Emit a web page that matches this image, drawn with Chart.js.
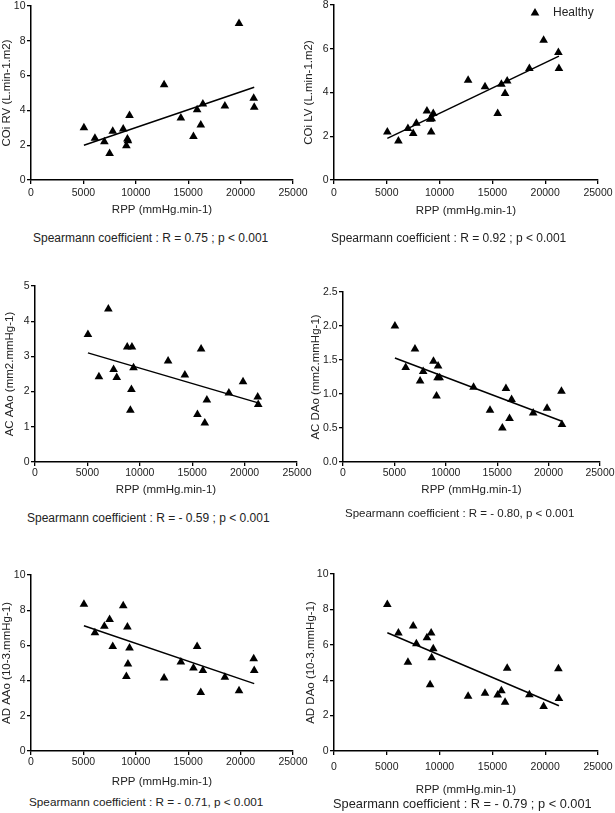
<!DOCTYPE html>
<html><head><meta charset="utf-8">
<script src="https://cdn.jsdelivr.net/npm/chart.js@4"></script>
<style>
html,body{margin:0;padding:0;background:#fff;width:615px;height:813px;overflow:hidden;position:relative;font-family:"Liberation Sans",Arial,sans-serif}
canvas{position:absolute}
.sp{position:absolute;white-space:nowrap;color:#222;line-height:1}
</style></head><body>
<script>
// ---- data ----
const rpp   = [5050, 6100, 7000, 7500, 7800, 8800, 9100, 9200, 9250, 9400, 12700, 14300, 15500, 15850, 16200, 16400, 18500, 19850, 21250, 21300];
const coiRV = [3.0, 2.4, 2.2, 1.53, 2.8, 2.93, 1.97, 2.36, 2.25, 3.7, 5.47, 3.56, 2.5, 4.04, 3.16, 4.37, 4.25, 9.0, 4.7, 4.18];
const coiLV = [2.2, 1.78, 2.36, 2.13, 2.59, 3.15, 2.78, 2.2, 2.8, 3.04, 4.56, 4.26, 3.04, 4.38, 3.95, 4.53, 5.1, 6.39, 5.83, 5.1];
const acAAo = [3.62, 2.42, 4.35, 2.63, 2.4, 3.27, 1.47, 2.06, 3.27, 2.68, 2.87, 2.47, 1.35, 3.21, 1.11, 1.76, 1.96, 2.28, 1.85, 1.63];
const acDAo = [2.0, 1.39, 1.66, 1.19, 1.33, 1.48, 0.97, 1.24, 1.41, 1.24, 1.10, 0.76, 0.5, 1.08, 0.64, 0.92, 0.72, 0.79, 1.04, 0.55];
const adAAo = [8.34, 6.72, 7.09, 7.47, 5.94, 8.25, 4.23, 7.05, 4.95, 5.85, 4.15, 5.05, 4.72, 5.94, 3.33, 4.57, 4.19, 3.43, 5.24, 4.57];
const adDAo = [8.28, 6.67, 5.02, 7.06, 6.06, 6.4, 3.75, 6.67, 5.27, 5.78, 3.09, 3.26, 3.16, 3.41, 2.75, 4.68, 3.18, 2.52, 4.64, 2.97];

// regression line end points (x range and y at each end)
const fitX   = [5050, 21300];
const fitRV  = [2.0, 5.33];
const fitLV  = [1.9, 5.66];
const fitACA = [3.1, 1.68];
const fitACD = [1.53, 0.6];
const fitADA = [7.12, 3.83];
const fitADD = [6.68, 2.56];

const xTicksMax = 25000, xStep = 5000;
const xTitle = 'RPP (mmHg.min-1)';
const yTitles = ['COi RV (L.min-1.m2)', 'COi LV (L.min-1.m2)', 'AC AAo (mm2.mmHg-1)', 'AC DAo (mm2.mmHg-1)', 'AD AAo (10-3.mmHg-1)', 'AD DAo (10-3.mmHg-1)'];
const yMaxes = [10, 8, 5, 2.5, 10, 10];
const ySteps = [2, 2, 1, 0.5, 2, 2];
const yDecimals = [0, 0, 0, 1, 0, 0];
const seriesName = 'Healthy';
const spearman = [
  'Spearmann coefficient : R = 0.75 ; p < 0.001',
  'Spearmann coefficient : R = 0.92 ; p < 0.001',
  'Spearmann coefficient : R = - 0.59 ; p < 0.001',
  'Spearmann coefficient : R = - 0.80, p < 0.001',
  'Spearmann coefficient : R = - 0.71, p < 0.001',
  'Spearmann coefficient : R = - 0.79 ; p < 0.001'
];
const values = [coiRV, coiLV, acAAo, acDAo, adAAo, adDAo];
const fits = [fitRV, fitLV, fitACA, fitACD, fitADA, fitADD];

// ---- layout (pixels) ----
const geo = [
  {cl:0,   L:31,  R:293, T:6,   B:180, yTitleX:7,   tickOff:13.3, titleY:210},
  {cl:300, L:334, R:598, T:5,   B:180, yTitleX:308.5, tickOff:13, titleY:211},
  {cl:0,   L:35,  R:297, T:286, B:462, yTitleX:10,  tickOff:11.3, titleY:490},
  {cl:300, L:343, R:600, T:292, B:462, yTitleX:316, tickOff:11.3, titleY:490},
  {cl:0,   L:31,  R:293, T:575, B:751, yTitleX:7,   tickOff:11, titleY:782},
  {cl:300, L:334, R:598, T:574, B:751, yTitleX:311, tickOff:16, titleY:790}
];
const spPos = [
  {x:33, y:238, fs:12}, {x:331, y:238, fs:12},
  {x:27, y:518, fs:12}, {x:345, y:514, fs:11.5},
  {x:29, y:802, fs:11.75}, {x:333, y:804, fs:12.8}
];

const FONT = '"Liberation Sans", Arial, sans-serif';
const tickFont = {family: FONT, size: 10.5};
const titleFont = {family: FONT, size: 11.5};
const TXT = '#222';
const TICKLEN = 4;

const legendPlugin = {
  id: 'healthyLegend',
  afterDraw(chart, args, opts) {
    if (!opts.show) return;
    const {ctx, chartArea} = chart;
    const x = chartArea.right - 63, y = chartArea.top + 8;
    ctx.save();
    ctx.fillStyle = '#000';
    Chart.helpers.drawPoint(ctx, {pointStyle: 'triangle', radius: 5, borderWidth: 0, rotation: 0}, x, y);
    ctx.font = '12px ' + FONT;
    ctx.fillStyle = TXT;
    ctx.textBaseline = 'middle';
    ctx.textAlign = 'left';
    ctx.fillText(seriesName, chartArea.right - 45, y);
    ctx.restore();
  }
};

for (let i = 0; i < 6; i++) {
  const g = geo[i];
  const ct = g.T - 10;
  const cw = 320;
  const half = titleFont.size * 1.2 / 2;
  const xH = g.titleY - g.B + half;
  const ch = Math.ceil(g.B + xH - ct);
  const yW = g.L - g.cl;
  const tickLH = tickFont.size * 1.2;
  const cv = document.createElement('canvas');
  cv.width = cw; cv.height = ch;
  cv.style.left = g.cl + 'px'; cv.style.top = ct + 'px';
  cv.style.width = cw + 'px'; cv.style.height = ch + 'px';
  document.body.appendChild(cv);

  const pts = rpp.map((x, k) => ({x: x, y: values[i][k]}));
  const line = fitX.map((x, k) => ({x: x, y: fits[i][k]}));
  const dec = yDecimals[i];

  new Chart(cv, {
    type: 'scatter',
    data: {
      datasets: [
        {label: seriesName, data: pts, pointStyle: 'triangle', pointRadius: 5, pointHoverRadius: 5,
         backgroundColor: '#000', borderColor: '#000', borderWidth: 0},
        {type: 'line', label: 'fit', data: line, borderColor: '#000', borderWidth: 1.5,
         pointRadius: 0, fill: false, tension: 0}
      ]
    },
    plugins: [legendPlugin],
    options: {
      responsive: false,
      animation: false,
      devicePixelRatio: 1,
      layout: {padding: {left: 0, top: g.T - ct, right: g.cl + cw - g.R, bottom: Math.max(0, ct + ch - g.B - xH)}},
      plugins: {
        legend: {display: false},
        tooltip: {enabled: false},
        healthyLegend: {show: i === 1}
      },
      scales: {
        x: {
          type: 'linear', min: 0, max: xTicksMax,
          ticks: {stepSize: xStep, font: tickFont, color: TXT, padding: g.tickOff - TICKLEN - tickLH / 2,
                  callback: v => String(v), maxRotation: 0, autoSkip: false},
          grid: {display: true, drawOnChartArea: false, drawTicks: true, tickLength: TICKLEN, color: '#000', lineWidth: 1.3},
          border: {display: true, color: '#000', width: 1.5},
          title: {display: true, text: xTitle, font: titleFont, color: TXT, padding: {top: 0, bottom: 0}},
          afterFit: s => { s.height = xH; }
        },
        y: {
          type: 'linear', min: 0, max: yMaxes[i],
          ticks: {stepSize: ySteps[i], font: tickFont, color: TXT, padding: 1.5,
                  callback: v => Number(v).toFixed(dec), autoSkip: false},
          grid: {display: true, drawOnChartArea: false, drawTicks: true, tickLength: TICKLEN, color: '#000', lineWidth: 1.3},
          border: {display: true, color: '#000', width: 1.5},
          title: {display: true, text: yTitles[i], font: titleFont, color: TXT,
                  padding: {top: g.yTitleX - g.cl - half, bottom: 0}},
          afterFit: s => { s.width = yW; }
        }
      }
    }
  });

  const d = document.createElement('div');
  d.className = 'sp';
  d.textContent = spearman[i];
  const p = spPos[i];
  d.style.left = p.x + 'px';
  d.style.top = (p.y - 0.49 * p.fs) + 'px';
  d.style.fontSize = p.fs + 'px';
  document.body.appendChild(d);
}
</script>
</body></html>
